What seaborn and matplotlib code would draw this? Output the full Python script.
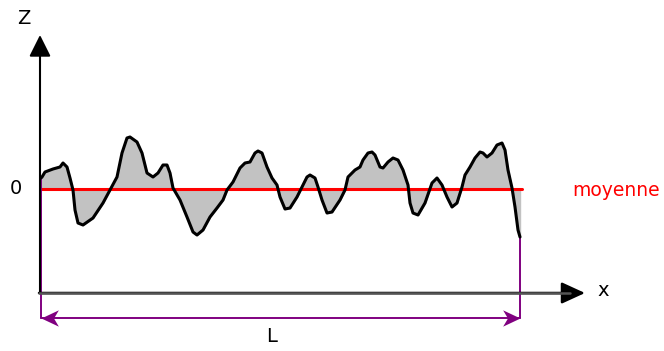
import numpy as np
import pandas as pd
import matplotlib.pyplot as plt
import seaborn as sns
from matplotlib.path import Path

# Profile of the surface: distance along L and height relative to the mean line
profile_x = [1, 2, 5, 13, 20, 23, 27, 30, 33, 35, 38, 43, 53, 63, 70, 77, 82, 87, 90, 97,
             102, 107, 113, 118, 123, 127, 130, 133, 140, 147, 153, 157, 163, 170, 177, 183,
             187, 193, 200, 205, 210, 215, 218, 222, 227, 232, 237, 240, 245, 250, 257, 262,
             267, 270, 275, 278, 282, 287, 292, 300, 305, 308, 315, 320, 323, 328, 332, 335,
             340, 343, 348, 353, 358, 363, 368, 370, 373, 378, 385, 392, 397, 402, 407, 412,
             417, 422, 425, 430, 435, 440, 443, 447, 452, 457, 462, 465, 468, 472, 475, 478, 480]
profile_z = [11, 12, 17, 20, 22, 26, 22, 11, -1, -21, -34, -36, -29, -14, -1, 12, 36, 51, 52, 47,
             36, 16, 12, 16, 24, 24, 16, 1, -11, -28, -43, -46, -41, -28, -19, -11,
             -1, 7, 21, 26, 27, 36, 38, 36, 22, 11, 4, -8, -20, -19, -8, 2,
             12, 14, 11, 2, -11, -24, -23, -11, -1, 12, 19, 22, 29, 36, 37, 34,
             22, 21, 27, 31, 29, 19, 4, -14, -24, -26, -14, 6, 11, 4, -8, -18,
             -14, 2, 14, 22, 31, 37, 36, 32, 36, 44, 46, 39, 19, 1, -18, -41, -48]

length_L = 480
axis_bottom = -104
axis_top = 154
x_axis_end = 545
dim_level = -129

df = pd.DataFrame({"x": profile_x, "z": profile_z})

sns.set_theme(style="white")
plt.rcParams["font.family"] = ["DejaVu Sans"]

fig = plt.figure(figsize=(6.64, 3.51), dpi=100)
ax = fig.add_axes([0, 0, 1, 1])
ax.set_xlim(-40, 624)
ax.set_ylim(-162, 189)
ax.axis("off")

# shaded area between profile and mean line
ax.fill_between(df["x"], df["z"], 0, color="#c2c2c2", zorder=1)

# mean line
sns.lineplot(x=[1, 482], y=[0, 0], color="#ff0000", linewidth=2.2, ax=ax, zorder=2)

# profile
sns.lineplot(data=df, x="x", y="z", sort=False, color="black", linewidth=2.2,
             ax=ax, zorder=3, solid_joinstyle="round", solid_capstyle="round")

# purple limits of the evaluation length
purple = "#800080"
ax.plot([0.5, 0.5], [profile_z[0], dim_level], color=purple, linewidth=1.4, zorder=2)
ax.plot([length_L, length_L], [profile_z[-1], dim_level], color=purple, linewidth=1.4, zorder=2)

# axes with arrow heads
ax.annotate("", xy=(0, axis_top), xytext=(0, axis_bottom),
            arrowprops=dict(arrowstyle="-|>,head_length=1.1,head_width=0.55",
                            color="black", lw=1.5, shrinkA=0, shrinkB=0))
ax.annotate("", xy=(x_axis_end, axis_bottom), xytext=(-1, axis_bottom),
            arrowprops=dict(arrowstyle="-|>,head_length=1.2,head_width=0.55",
                            color="#555555", lw=1.8, shrinkA=0, shrinkB=0,
                            fc="black", ec="black"), zorder=4)
ax.plot([-1, x_axis_end - 15], [axis_bottom, axis_bottom], color="#555555", linewidth=1.8, zorder=4)

# dimension arrow L with stealth heads
ax.plot([0.5, length_L], [dim_level, dim_level], color=purple, linewidth=1.4, zorder=2)
stealth_right = Path([(0, 0), (-1, 0.47), (-0.72, 0), (-1, -0.47), (0, 0)],
                     [Path.MOVETO, Path.LINETO, Path.LINETO, Path.LINETO, Path.CLOSEPOLY])
stealth_left = Path([(0, 0), (1, 0.47), (0.72, 0), (1, -0.47), (0, 0)],
                    [Path.MOVETO, Path.LINETO, Path.LINETO, Path.LINETO, Path.CLOSEPOLY])
ax.plot([length_L], [dim_level], marker=stealth_right, markersize=25, color=purple,
        markeredgewidth=0, linestyle="none", zorder=3)
ax.plot([0.5], [dim_level], marker=stealth_left, markersize=25, color=purple,
        markeredgewidth=0, linestyle="none", zorder=3)

# labels
ax.text(-16, 170, "Z", fontsize=14, ha="center", va="center", color="black")
ax.text(-24, 0, "0", fontsize=14, ha="center", va="center", color="black")
ax.text(532, -1, "moyenne", fontsize=13.5, ha="left", va="center", color="#ff0000")
ax.text(563.5, -102, "x", fontsize=14, ha="center", va="center", color="black")
ax.text(232, -148, "L", fontsize=14, ha="center", va="center", color="black")

fig.savefig("out.png", dpi=100)
